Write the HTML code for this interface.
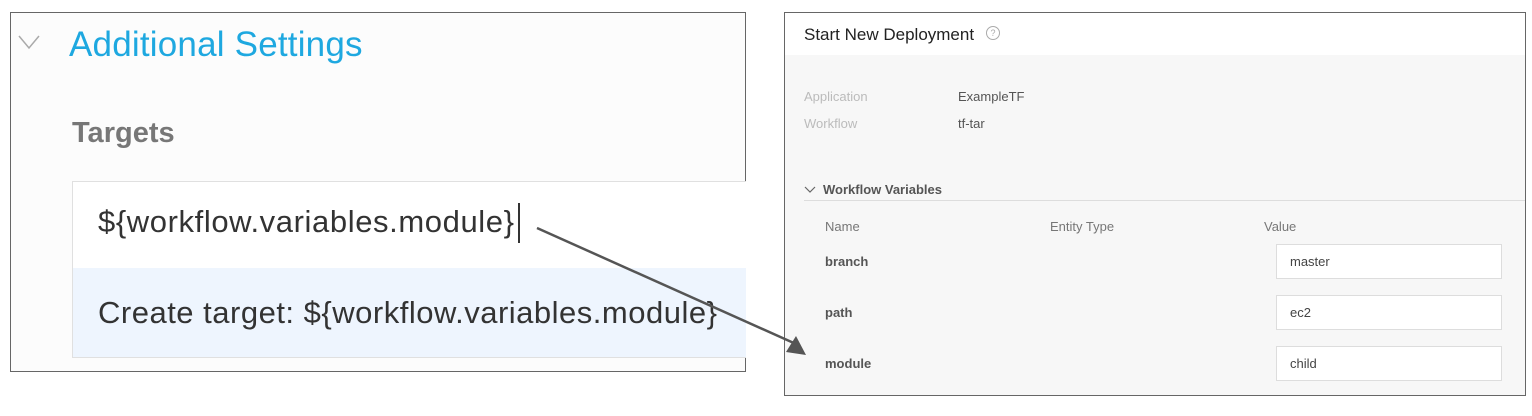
<!DOCTYPE html>
<html><head><style>
body{margin:0;width:1532px;height:416px;background:#fff;position:relative;overflow:hidden;font-family:"Liberation Sans",sans-serif}
.a{position:absolute;white-space:nowrap}
</style></head><body>
<div class="a" style="left:10px;top:12px;width:734px;height:358px;border:1px solid #666;background:#fcfcfc"></div>
<svg class="a" style="left:17px;top:32px" width="26" height="22"><polyline points="2,4 12,16 22,4" fill="none" stroke="#aaa" stroke-width="1.5"/></svg>
<div class="a" style="left:69px;top:25px;font-size:35px;color:#1ea8e0;letter-spacing:0.2px">Additional Settings</div>
<div class="a" style="left:72px;top:117px;font-size:29px;color:#777;font-weight:bold">Targets</div>
<div class="a" style="left:72px;top:181px;width:673px;height:86px;background:#fff;border:1px solid #e0e0e0;border-right:none"></div>
<div class="a" style="left:98px;top:204px;font-size:31px;color:#333;letter-spacing:0.6px">${workflow.variables.module}</div>
<div class="a" style="left:518px;top:203px;width:2px;height:40px;background:#333"></div>
<div class="a" style="left:72px;top:268px;width:673px;height:89px;background:#eef5fe;border:1px solid #e0e0e0;border-right:none;border-top:none"></div>
<div class="a" style="left:98px;top:295px;font-size:31px;color:#333;letter-spacing:0.5px">Create target: ${workflow.variables.module}</div>

<div class="a" style="left:784px;top:12px;width:740px;height:382px;border:1px solid #666;background:#f7f7f7"></div>
<div class="a" style="left:785px;top:13px;width:740px;height:42px;background:#fff"></div>
<div class="a" style="left:804px;top:25px;font-size:17px;color:#222">Start New Deployment</div>
<div class="a" style="left:986px;top:26px;width:12px;height:12px;border:1px solid #aaa;border-radius:50%;font-size:9px;color:#aaa;text-align:center;line-height:12px">?</div>
<div class="a" style="left:804px;top:89px;font-size:13px;color:#bbb">Application</div>
<div class="a" style="left:958px;top:89px;font-size:13px;color:#555">ExampleTF</div>
<div class="a" style="left:804px;top:116px;font-size:13px;color:#bbb">Workflow</div>
<div class="a" style="left:958px;top:116px;font-size:13px;color:#555">tf-tar</div>
<svg class="a" style="left:804px;top:185px" width="14" height="10"><polyline points="1,2 6,7 11,2" fill="none" stroke="#666" stroke-width="1.2"/></svg>
<div class="a" style="left:823px;top:182px;font-size:13px;color:#555;font-weight:bold">Workflow Variables</div>
<div class="a" style="left:804px;top:200px;width:721px;height:1px;background:#ddd"></div>
<div class="a" style="left:825px;top:219px;font-size:13px;color:#777">Name</div>
<div class="a" style="left:1050px;top:219px;font-size:13px;color:#777">Entity Type</div>
<div class="a" style="left:1264px;top:219px;font-size:13px;color:#777">Value</div>
<div class="a" style="left:825px;top:254px;font-size:13px;color:#555;font-weight:bold">branch</div>
<div class="a" style="left:825px;top:305px;font-size:13px;color:#555;font-weight:bold">path</div>
<div class="a" style="left:825px;top:356px;font-size:13px;color:#555;font-weight:bold">module</div>
<div class="a" style="left:1276px;top:244px;width:224px;height:33px;background:#fff;border:1px solid #ddd"></div>
<div class="a" style="left:1276px;top:295px;width:224px;height:33px;background:#fff;border:1px solid #ddd"></div>
<div class="a" style="left:1276px;top:346px;width:224px;height:33px;background:#fff;border:1px solid #ddd"></div>
<div class="a" style="left:1290px;top:254px;font-size:13px;color:#444">master</div>
<div class="a" style="left:1290px;top:305px;font-size:13px;color:#444">ec2</div>
<div class="a" style="left:1290px;top:356px;font-size:13px;color:#444">child</div>

<svg class="a" style="left:0;top:0" width="1532" height="416">
<line x1="537" y1="228" x2="796" y2="344" stroke="#555" stroke-width="2.5"/>
<polygon points="806,355 786,352 796,336" fill="#555"/>
</svg>
</body></html>
